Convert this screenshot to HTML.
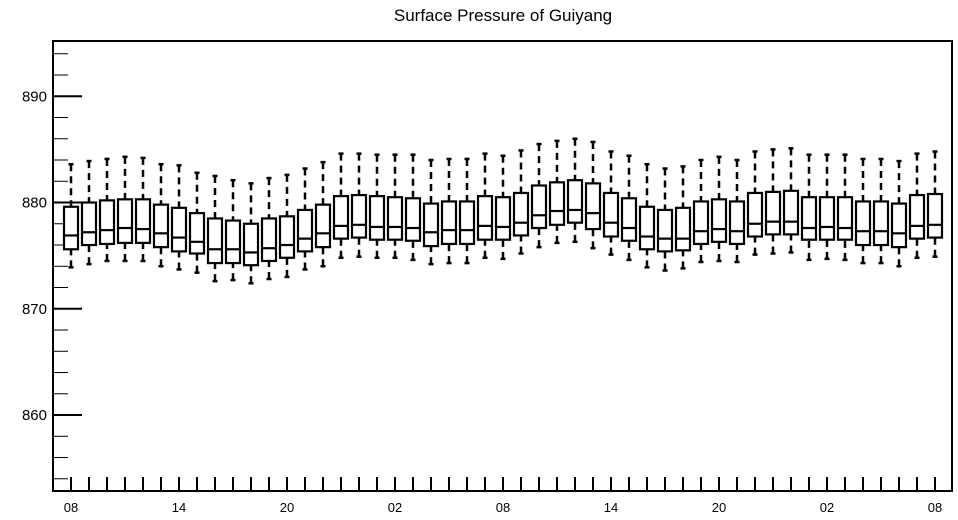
<!DOCTYPE html>
<html><head><meta charset="utf-8"><style>
body{margin:0;background:#fff;}
svg{display:block;font-family:"Liberation Sans",Arial,sans-serif;}
</style></head><body>
<svg id="chart" width="958" height="520" viewBox="0 0 958 520" xmlns="http://www.w3.org/2000/svg">
<text x="503" y="21" font-size="17" text-anchor="middle">Surface Pressure of Guiyang</text>
<g id="axes"></g>
<g id="boxes"></g>
</svg>
<script>
const xLabels = ["08","14","20","02","08","14","20","02","08"];
const yTicks = [860,870,880,890];
const whiskerHigh = [883.6,883.9,884.1,884.3,884.2,883.6,883.5,882.8,882.5,882.1,881.8,882.3,882.6,883.2,883.8,884.6,884.6,884.5,884.5,884.5,884.0,884.1,884.1,884.6,884.4,884.9,885.5,885.8,886.0,885.7,884.8,884.4,883.6,883.2,883.4,884.0,884.3,884.0,884.8,885.0,885.1,884.5,884.5,884.5,884.1,884.1,883.9,884.6,884.8];
const q3 = [879.6,880.0,880.2,880.3,880.3,879.8,879.5,879.0,878.5,878.3,878.0,878.5,878.7,879.3,879.8,880.6,880.7,880.6,880.5,880.4,879.9,880.1,880.1,880.6,880.5,880.9,881.6,881.9,882.1,881.8,880.9,880.4,879.6,879.3,879.5,880.1,880.3,880.1,880.9,881.0,881.1,880.5,880.5,880.5,880.1,880.1,879.9,880.7,880.8];
const median = [876.9,877.2,877.4,877.6,877.5,877.1,876.7,876.3,875.6,875.6,875.3,875.7,876.0,876.6,877.1,877.8,877.9,877.7,877.7,877.6,877.2,877.4,877.4,877.8,877.7,878.1,878.8,879.2,879.3,879.0,878.1,877.6,876.8,876.6,876.6,877.3,877.5,877.3,878.0,878.2,878.2,877.6,877.7,877.6,877.3,877.3,877.1,877.8,877.9];
const q1 = [875.6,876.0,876.1,876.2,876.2,875.8,875.4,875.2,874.3,874.3,874.1,874.5,874.8,875.4,875.8,876.6,876.7,876.5,876.5,876.4,875.9,876.1,876.1,876.5,876.5,876.9,877.6,877.9,878.1,877.5,876.8,876.4,875.6,875.4,875.5,876.1,876.3,876.1,876.8,877.0,877.0,876.5,876.5,876.5,876.0,876.0,875.8,876.6,876.7];
const whiskerLow = [873.9,874.2,874.5,874.5,874.5,874.0,873.7,873.4,872.6,872.7,872.4,872.8,873.0,873.7,874.0,874.8,874.9,874.8,874.8,874.6,874.2,874.3,874.3,874.8,874.7,875.2,875.8,876.2,876.3,875.7,875.1,874.6,873.9,873.6,873.8,874.4,874.5,874.4,875.1,875.2,875.3,874.6,874.7,874.6,874.3,874.3,874.0,874.8,874.9];

const NS="http://www.w3.org/2000/svg";
const L=53,R=952,T=41,B=491;
const yMin=852.85,yMax=895.2;
function yS(v){return B-(v-yMin)/(yMax-yMin)*(B-T);}
function xS(i){return 71+i*(864/(whiskerHigh.length-1));}
function mk(tag,attrs,parent){const e=document.createElementNS(NS,tag);for(const k in attrs)e.setAttribute(k,attrs[k]);parent.appendChild(e);return e;}
const ax=document.getElementById('axes');
const bx=document.getElementById('boxes');
let f=mk('rect',{x:L,y:T,width:R-L,height:B-T,fill:'none',stroke:'#000','stroke-width':2},ax);


// y ticks
for(let v=854;v<=894;v+=2){
  const major=(v%10===0);
  const t=mk('line',{x1:L,x2:L+(major?29:15),y1:yS(v),y2:yS(v),stroke:'#000','stroke-width':major?2:1},ax);
  
  
}
yTicks.forEach(v=>{
  const t=mk('text',{x:47,y:yS(v)+5,'font-size':15,'text-anchor':'end'},ax);
  t.textContent=v;
  
  
});
// x ticks
for(let i=0;i<whiskerHigh.length;i++){
  const t=mk('line',{x1:xS(i),x2:xS(i),y1:B,y2:B-14,stroke:'#000','stroke-width':2},ax);
  
  
}
xLabels.forEach((s,k)=>{
  const t=mk('text',{x:xS(k*6),y:512,'font-size':13,'text-anchor':'middle'},ax);
  t.textContent=s;
  
  
});
// boxes
for(let i=0;i<whiskerHigh.length;i++){
  const cx=xS(i),w=14;
  const g=mk('g',{},bx);
  
  
  mk('line',{x1:cx,x2:cx,y1:yS(whiskerHigh[i]),y2:yS(q3[i]),stroke:'#000','stroke-width':2.5,'stroke-dasharray':'7,5'},g);
  mk('line',{x1:cx,x2:cx,y1:yS(whiskerLow[i]),y2:yS(q1[i]),stroke:'#000','stroke-width':2.5,'stroke-dasharray':'7,5'},g);
  mk('line',{x1:cx-2.5,x2:cx+2.5,y1:yS(whiskerHigh[i]),y2:yS(whiskerHigh[i]),stroke:'#000','stroke-width':2.5},g);
  mk('line',{x1:cx-2.5,x2:cx+2.5,y1:yS(whiskerLow[i]),y2:yS(whiskerLow[i]),stroke:'#000','stroke-width':2.5},g);
  mk('rect',{x:cx-w/2,y:yS(q3[i]),width:w,height:yS(q1[i])-yS(q3[i]),fill:'#fff',stroke:'#000','stroke-width':2.2},g);
  mk('line',{x1:cx-w/2,x2:cx+w/2,y1:yS(median[i]),y2:yS(median[i]),stroke:'#000','stroke-width':2.2},g);
}
</script>
</body></html>
